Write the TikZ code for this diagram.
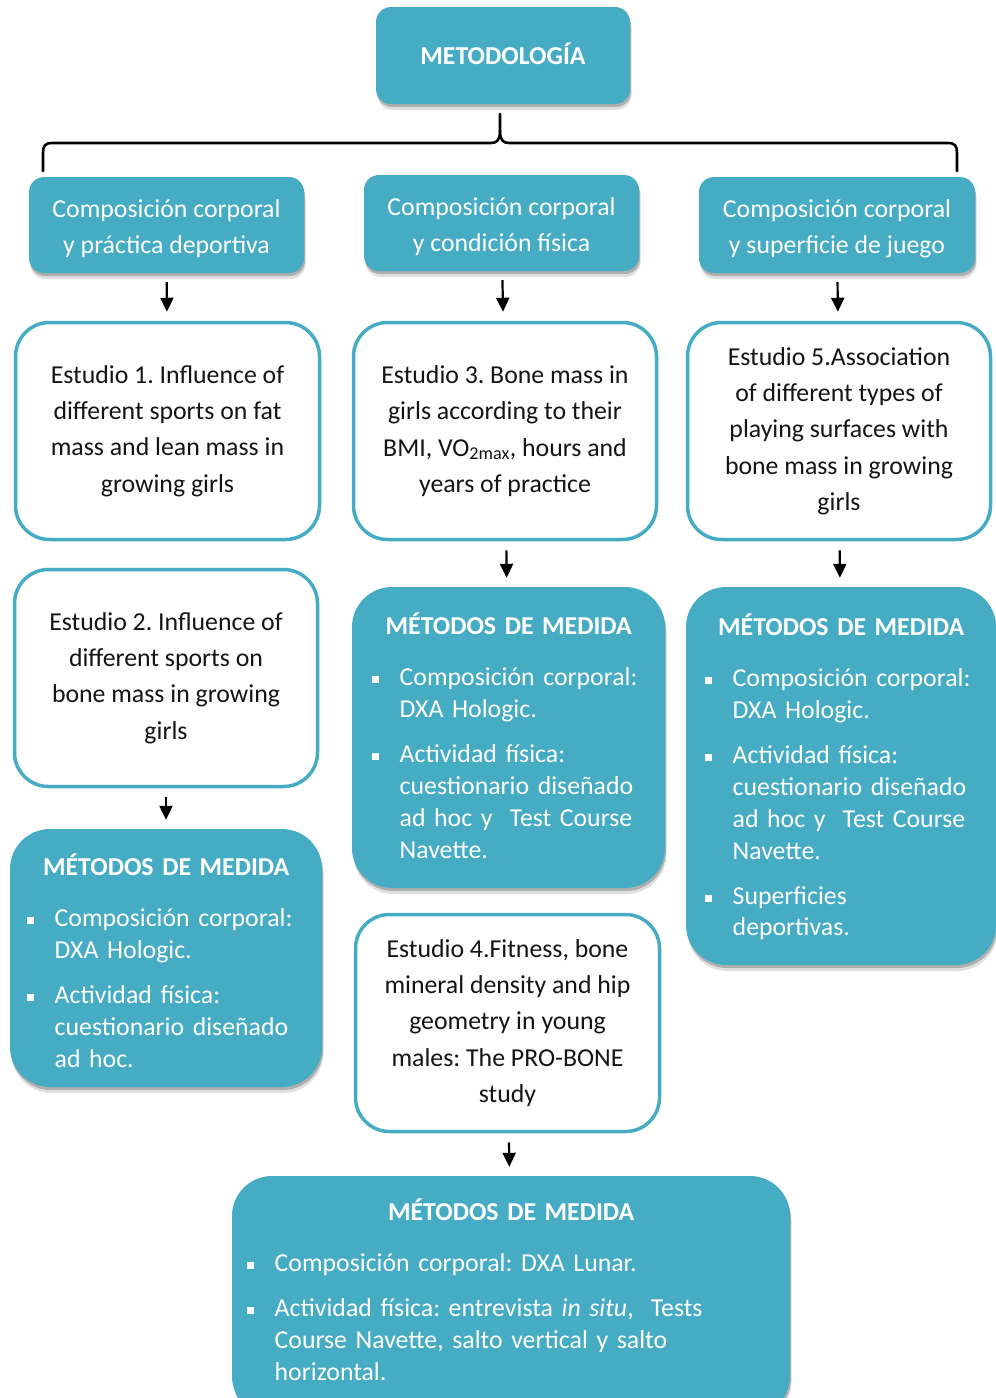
\documentclass[tikz,border=0pt]{standalone}
\usepackage{fontspec}
\setmainfont{Carlito}
\usetikzlibrary{shadows,arrows.meta}
\definecolor{tealc}{HTML}{45ACC4}
\definecolor{txtc}{HTML}{141414}
\frenchspacing
\newcommand{\bodyfnt}{\fontsize{25.8}{36.3}\selectfont\frenchspacing}
\newcommand{\listfnt}{\fontsize{25.8}{31.8}\selectfont\frenchspacing}
\newcommand{\bsq}{\raisebox{2.5pt}{\rule{7pt}{7pt}}}
\newcommand{\mtitle}{{\centering\bfseries MÉTODOS DE MEDIDA\par}\vspace{20pt}}
\newcommand{\bitem}[1]{\par\noindent\hangindent=27.5pt\hangafter=1\makebox[27.5pt][l]{\bsq}#1\par\vspace{13.2pt}}
\newcommand{\upfix}{\rule{0pt}{25pt}}
\tikzset{
  shad/.style={drop shadow={shadow xshift=1pt,shadow yshift=-3pt,opacity=0.22,fill=black},
               drop shadow={shadow xshift=1.5pt,shadow yshift=-6pt,opacity=0.12,fill=black}},
  headbox/.style={shad,fill=tealc,rounded corners=15pt,text=white,font=\bodyfnt,align=center,inner sep=0pt},
  studybox/.style={draw=tealc,line width=3.5pt,fill=white,rounded corners=34pt,text=txtc,font=\bodyfnt,align=center,inner sep=0pt},
  methbox/.style={shad,fill=tealc,rounded corners=40pt,inner sep=0pt},
  mcont/.style={anchor=base west,text=white,font=\listfnt,inner sep=0pt},
  arr/.style={line width=2.2pt,-{Triangle[width=13pt,length=14pt]},shorten <=9pt,shorten >=9pt},
  brace/.style={line width=2.6pt,line cap=round}
}
\begin{document}
\begin{tikzpicture}[x=1pt,y=-1pt]
\useasboundingbox (0,0) rectangle (996,1398);
\clip (0,0) rectangle (996,1398);

% top
\node[headbox,minimum width=254pt,minimum height=97pt] (top) at (503,55.5) {\bfseries METODOLOGÍA\rule[-4pt]{0pt}{4pt}};

% brace
\coordinate (bt) at (500,114);
\coordinate (bl) at (43,171);
\coordinate (br) at (957,171);
\draw[brace] (bl) -- (43,153) .. controls (43,146) and (45,143) .. (52,143) -- (491,143)
  .. controls (497,143) and (500,140) .. (500,131) -- (bt);
\draw[brace] (500,131) .. controls (500,140) and (503,143) .. (509,143) -- (948,143)
  .. controls (955,143) and (957,146) .. (957,153) -- (br);

% second row
\node[headbox,minimum width=275pt,minimum height=96pt] (A) at (166.5,225) {\upfix Composición corporal\\y práctica deportiva};
\node[headbox,minimum width=275pt,minimum height=96pt] (B) at (501.5,223) {\upfix Composición corporal\\y condición física};
\node[headbox,minimum width=276pt,minimum height=96pt] (C) at (837,225) {\upfix Composición corporal\\y superficie de juego};

% studies
\node[studybox,minimum width=304pt,minimum height=217pt] (S1) at (167.5,431) {Estudio 1. Influence of\\different sports on fat\\mass and lean mass in\\growing girls};
\node[studybox,minimum width=303pt,minimum height=217pt] (S3) at (505,431) {Estudio 3. Bone mass in\\girls according to their\\BMI, VO\textsubscript{2max}, hours and\\years of practice};
\node[studybox,minimum width=303pt,minimum height=217pt] (S5) at (839,431) {Estudio 5.Association\\of different types of\\playing surfaces with\\bone mass in growing\\girls};
\node[studybox,minimum width=303pt,minimum height=217pt] (S2) at (166,678) {Estudio 2. Influence of\\different sports on\\bone mass in growing\\girls};
\node[studybox,minimum width=304pt,minimum height=217pt] (S4) at (507.5,1023) {Estudio 4.Fitness, bone\\mineral density and hip\\geometry in young\\males: The PRO-BONE\\study};

% methods boxes
\node[methbox,minimum width=312pt,minimum height=258pt] (M1) at (166,958) {};
\node[methbox,minimum width=313pt,minimum height=301pt] (M3) at (508.5,737.5) {};
\node[methbox,minimum width=310pt,minimum height=378pt] (M5) at (841,776) {};
\node[methbox,minimum width=558pt,minimum height=240pt] (M4) at (511,1296) {};

\node[mcont,text width=278pt] (M1t) at (27,875) {\raggedright\mtitle
  \bitem{Composición corporal:\newline DXA Hologic.}
  \bitem{Actividad física:\newline cuestionario diseñado\newline ad hoc.}};
\node[mcont,text width=273pt] (M3t) at (372,634) {\raggedright\mtitle
  \bitem{Composición corporal:\newline DXA Hologic.}
  \bitem{Actividad física:\newline cuestionario diseñado\newline ad hoc y\ \ Test Course\newline Navette.}};
\node[mcont,text width=272pt] (M5t) at (705,635) {\raggedright\mtitle
  \bitem{Composición corporal:\newline DXA Hologic.}
  \bitem{Actividad física:\newline cuestionario diseñado\newline ad hoc y\ \ Test Course\newline Navette.}
  \bitem{Superficies\newline deportivas.}};
\node[mcont,text width=528pt] (M4t) at (247,1220) {\raggedright\mtitle
  \bitem{Composición corporal: DXA Lunar.}
  \bitem{Actividad física: entrevista \textit{in situ},\ \ Tests\newline Course Navette, salto vertical y salto\newline horizontal.}};

% arrows
\draw[arr] (A) -- (S1);
\draw[arr] (B) -- (S3);
\draw[arr] (C) -- (S5);
\draw[arr] (S3) -- (M3);
\draw[arr] (S5) -- (M5);
\draw[arr] (S2) -- (M1);
\draw[arr] (S4) -- (M4);
\end{tikzpicture}
\end{document}
